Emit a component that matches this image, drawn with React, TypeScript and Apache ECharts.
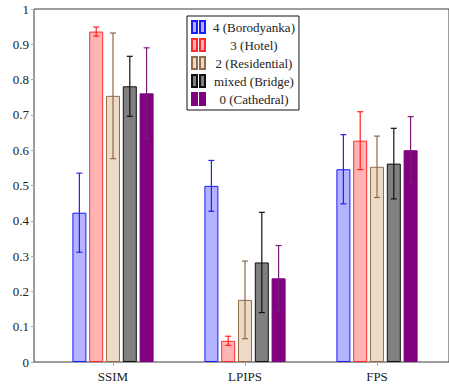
import React, { useEffect, useRef } from 'react';
import * as echarts from 'echarts';

const categories = ['SSIM', 'LPIPS', 'FPS'];
const seriesNames = ['4 (Borodyanka)', '3 (Hotel)', '2 (Residential)', 'mixed (Bridge)', '0 (Cathedral)'];

const borodyanka = [0.423, 0.499, 0.546];
const borodyankaErr = [0.112, 0.072, 0.098];
const hotel = [0.936, 0.06, 0.627];
const hotelErr = [0.013, 0.013, 0.082];
const residential = [0.754, 0.176, 0.553];
const residentialErr = [0.178, 0.11, 0.087];
const bridge = [0.781, 0.282, 0.562];
const bridgeErr = [0.085, 0.142, 0.1];
const cathedral = [0.761, 0.237, 0.6];
const cathedralErr = [0.129, 0.093, 0.095];

const yMin = 0;
const yMax = 1;
const yInterval = 0.1;

const values = [borodyanka, hotel, residential, bridge, cathedral];
const errors = [borodyankaErr, hotelErr, residentialErr, bridgeErr, cathedralErr];
const fills = ['#b3b3ff', '#ffb3b3', '#ecdac6', '#808080', '#800080'];
const strokes = ['#1a1aff', '#ff2a2a', '#8f6d4c', '#111111', '#800080'];
const errColors = ['#2222ee', '#ff2020', '#8a6a4c', '#111111', '#7a1a7a'];

const FONT = '"Liberation Serif", "DejaVu Serif", serif';
const BAR_W = 14;
const PITCH = 16.8;

export default function App() {
  const ref = useRef<HTMLDivElement>(null);
  useEffect(() => {
    if (!ref.current) return;
    const chart = echarts.init(ref.current, undefined, { renderer: 'svg' });
    const barSeries = seriesNames.map((name, i) => ({
      name,
      type: 'bar',
      xAxisIndex: 1,
      yAxisIndex: 1,
      barWidth: BAR_W,
      barGap: '20%',
      data: values[i],
      itemStyle: { color: fills[i], borderColor: strokes[i], borderWidth: 1 },
      z: 2,
    }));
    const errSeries = seriesNames.map((name, i) => ({
      name: 'err-' + name,
      type: 'custom',
      xAxisIndex: 1,
      yAxisIndex: 1,
      z: 3,
      data: categories.map((_, j) => [j, values[i][j] - errors[i][j], values[i][j] + errors[i][j]]),
      renderItem: (params: any, api: any) => {
        const off = (i - 2) * PITCH;
        const lo = api.coord([api.value(0), api.value(1)]);
        const hi = api.coord([api.value(0), api.value(2)]);
        const x = lo[0] + off;
        const st = { stroke: errColors[i], lineWidth: 1.2 };
        return {
          type: 'group',
          children: [
            { type: 'line', shape: { x1: x, y1: lo[1], x2: x, y2: hi[1] }, style: st },
            { type: 'line', shape: { x1: x - 3, y1: lo[1], x2: x + 3, y2: lo[1] }, style: st },
            { type: 'line', shape: { x1: x - 3, y1: hi[1], x2: x + 3, y2: hi[1] }, style: st },
          ],
        };
      },
    }));
    chart.setOption({
      animation: false,
      backgroundColor: '#ffffff',
      textStyle: { fontFamily: FONT },
      grid: [
        { left: 34, right: -7, top: 9, bottom: 26, show: true, borderColor: '#3a3a3a', borderWidth: 1, backgroundColor: 'transparent' },
        { left: 47, right: 6, top: 9, bottom: 26 },
      ],
      xAxis: [
        { type: 'value', gridIndex: 0, show: false, min: 0, max: 1 },
        {
          type: 'category',
          gridIndex: 1,
          data: categories,
          axisLine: { show: false },
          axisTick: { show: true, alignWithLabel: true, length: 4, lineStyle: { color: '#aaaaaa' } },
          axisLabel: { fontFamily: FONT, fontSize: 13, color: '#222', margin: 8 },
        },
      ],
      yAxis: [
        {
          type: 'value',
          gridIndex: 0,
          min: yMin,
          max: yMax,
          interval: yInterval,
          axisLine: { show: false },
          axisTick: { show: true, length: 3, lineStyle: { color: '#aaaaaa' } },
          splitLine: { show: false },
          axisLabel: {
            fontFamily: FONT,
            fontSize: 13,
            color: '#222',
            margin: 5,
            formatter: (v: number) => (v === 0 ? '0' : v === 1 ? '1' : v.toFixed(1)),
          },
        },
        { type: 'value', gridIndex: 1, min: yMin, max: yMax, show: false },
      ],
      legend: {
        data: seriesNames,
        orient: 'vertical',
        left: 187,
        top: 16,
        backgroundColor: '#ffffff',
        borderColor: '#111',
        borderWidth: 1,
        padding: [4, 4, 4, 4],
        itemGap: 4,
        itemWidth: 13,
        itemHeight: 12,
        icon: 'path://M0,0h5v12h-5z M8,0h5v12h-5z',
        selectedMode: false,
        formatter: (n: string) => '{c|' + n + '}',
        textStyle: {
          fontFamily: FONT,
          fontSize: 13,
          color: '#222',
          rich: { c: { fontFamily: FONT, fontSize: 13, color: '#222', width: 88, align: 'center' } },
        },
      },
      series: [...barSeries, ...errSeries],
    });
    return () => chart.dispose();
  }, []);
  return (
    <div
      ref={ref}
      style={{ position: 'fixed', left: 0, top: 0, width: 449, height: 388 }}
    />
  );
}
